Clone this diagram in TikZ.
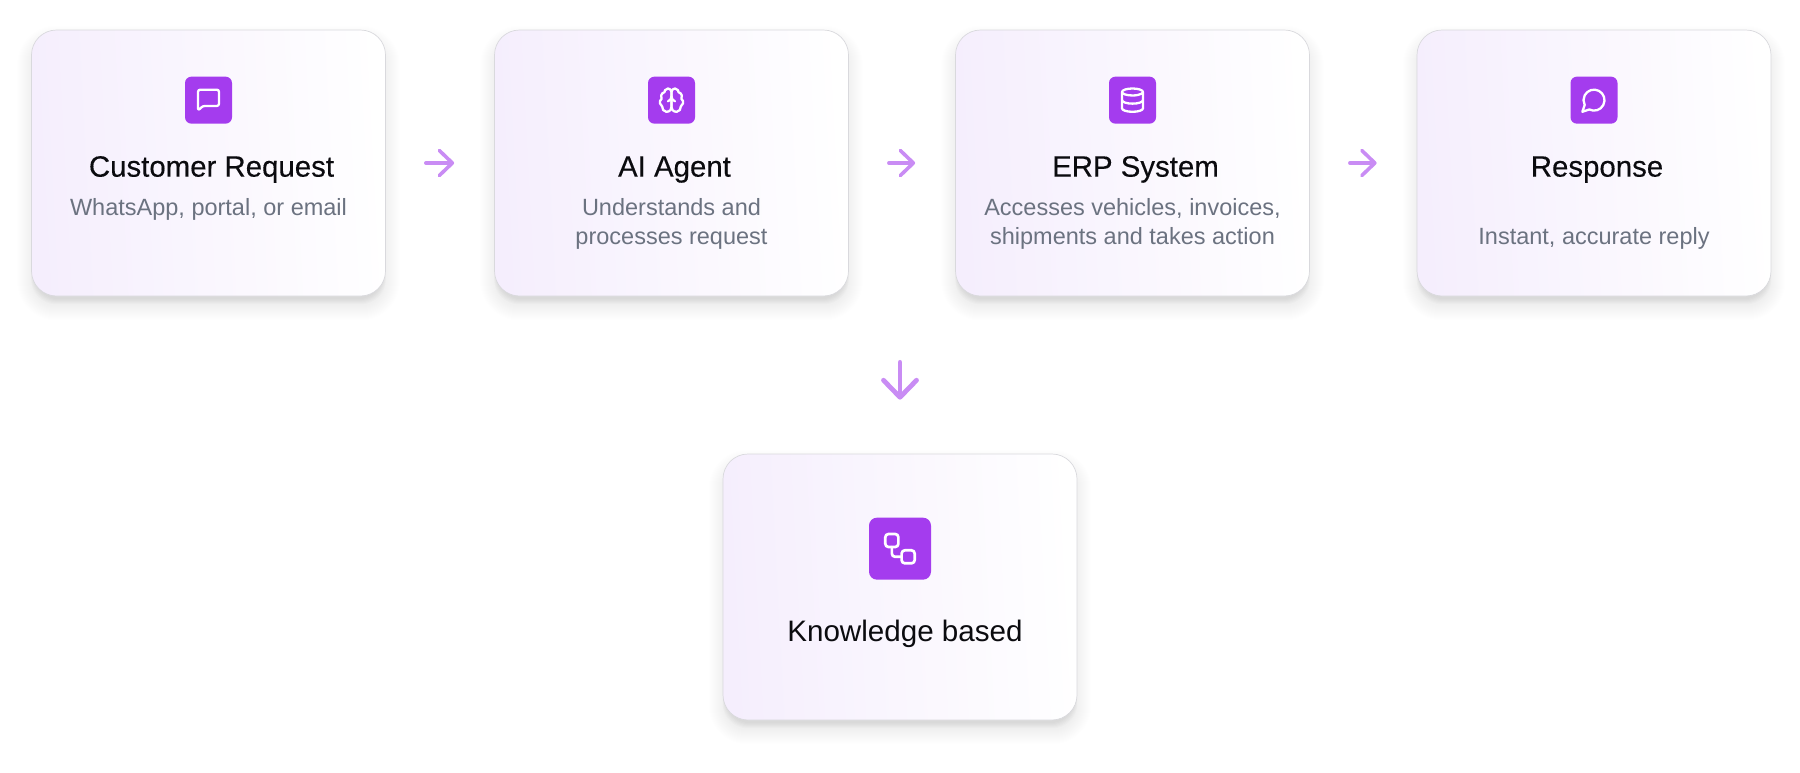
\documentclass[tikz,border=0pt]{standalone}
\usepackage{fontspec}
\setmainfont{Liberation Sans}
\newfontfamily\titlefont[FakeBold=0.25]{Liberation Sans}
\usetikzlibrary{positioning}
\usetikzlibrary{arrows.meta}
\usetikzlibrary{backgrounds}
\usetikzlibrary{svg.path}
\definecolor{cardleft}{HTML}{F5EEFD}
\definecolor{cardmid}{HTML}{FAF6FE}
\definecolor{cardedge}{HTML}{D9D9DD}
\definecolor{iconfill}{HTML}{A43CEE}
\definecolor{flowline}{HTML}{C98CF4}
\definecolor{subtext}{HTML}{6B7280}
\definecolor{titletext}{HTML}{0B0B0F}
\tikzset{x=.5pt,y=-.5pt,
    card/.style={
        draw=cardedge,
        line width=.35pt,
        rounded corners=12.5pt,
        minimum width=177pt,
        minimum height=133pt,
        inner sep=0pt,
        left color=cardleft,
        middle color=cardmid,
        right color=white,
        shading angle=93},
    iconbox/.style={
        fill=iconfill,
        rounded corners=3.2pt,
        minimum size=23.5pt,
        inner sep=0pt},
    bigiconbox/.style={
        iconbox,
        rounded corners=4pt,
        minimum size=31pt},
    iconline/.style={
        draw=white,
        line width=1.15pt,
        line cap=round,
        line join=round},
    cardtitle/.style={
        anchor=base,
        inner sep=0pt,
        text=titletext,
        font=\titlefont\fontsize{14.7}{18}\selectfont},
    cardsub/.style={
        anchor=base,
        inner sep=0pt,
        align=center,
        text=subtext,
        font=\fontsize{11.75}{14.4}\selectfont},
    flow/.style={
        draw=flowline,
        line width=1.8pt,
        line cap=round,
        -{Straight Barb[length=6.5pt,width=12.5pt,round]}},
    bigflow/.style={
        draw=flowline,
        line width=2.4pt,
        line cap=round,
        -{Straight Barb[length=8.5pt,width=16.5pt,round]}},
    iconpath/.style={
        shift={(-7pt,7pt)},
        xscale=.583,
        yscale=-.583}}

\begin{document}
\begin{tikzpicture}
    \useasboundingbox (0,0) rectangle (1800,772);

    \node[card] (custreq) at (208.5,163) {};
    \node[card] (aiagent) at (671.5,163) {};
    \node[card] (erp) at (1132.5,163) {};
    \node[card] (resp) at (1594,163) {};
    \node[card] (know) at (900,587) {};

    % shadows under the cards
    \begin{scope}[on background layer]
        \foreach \n in {custreq,aiagent,erp,resp,know} {
            \foreach \s in {0,...,14}
                \fill[black,opacity=.004,rounded corners=12.5pt+\s*.5pt]
                    ([xshift=-\s*.5pt,yshift=-5pt-\s*.5pt]\n.south west) rectangle ([xshift=\s*.5pt,yshift=-5pt+\s*.5pt]\n.north east);
            \foreach \s in {0,...,5}
                \fill[black,opacity=.017,rounded corners=12.5pt]
                    ([xshift=1.5pt-\s*.3pt,yshift=-1.5pt-\s*.5pt]\n.south west) rectangle ([xshift=-1.5pt+\s*.3pt,yshift=-1.5pt]\n.north east);
        }
    \end{scope}

    \node[iconbox] (custreq-icon) at ([yshift=-35.25pt]custreq.north) {};
    \node[iconbox] (aiagent-icon) at ([yshift=-35.25pt]aiagent.north) {};
    \node[iconbox] (erp-icon) at ([yshift=-35.25pt]erp.north) {};
    \node[iconbox] (resp-icon) at ([yshift=-35.25pt]resp.north) {};
    \node[bigiconbox] (know-icon) at ([yshift=-47.5pt]know.north) {};

    \node[cardtitle] (custreq-title) at ([xshift=1.5pt,yshift=-73.5pt]custreq.north) {Customer Request};
    \node[cardtitle] (aiagent-title) at ([xshift=1.5pt,yshift=-73.5pt]aiagent.north) {AI Agent};
    \node[cardtitle] (erp-title) at ([xshift=1.5pt,yshift=-73.5pt]erp.north) {ERP System};
    \node[cardtitle] (resp-title) at ([xshift=1.5pt,yshift=-73.5pt]resp.north) {Response};
    \node[cardtitle,font=\fontsize{14.8}{18}\selectfont] (know-title) at ([xshift=2.5pt,yshift=-94pt]know.north) {Knowledge based};

    \node[cardsub] (custreq-sub) at ([yshift=-93pt]custreq.north) {WhatsApp, portal, or email};
    \node[cardsub] (aiagent-sub) at ([yshift=-107.5pt]aiagent.north) {Understands and\\processes request};
    \node[cardsub] (erp-sub) at ([yshift=-107.5pt]erp.north) {Accesses vehicles, invoices,\\shipments and takes action};
    \node[cardsub] (resp-sub) at ([yshift=-107.5pt]resp.north) {Instant, accurate reply};

    % icons
    \begin{scope}[shift={(custreq-icon.center)},x=.583pt,y=-.583pt]
        \draw[iconline,rounded corners=1.1pt] (-9,9) -- (-9,-9) -- (9,-9) -- (9,5) -- (-5,5) -- cycle;
    \end{scope}
    \begin{scope}[shift={(aiagent-icon.center)}]
        \draw[iconline,iconpath] svg "M12 5a3 3 0 1 0-5.997.125 4 4 0 0 0-2.526 5.77 4 4 0 0 0 .556 6.588A4 4 0 1 0 12 18Z";
        \draw[iconline,iconpath] svg "M12 5a3 3 0 1 1 5.997.125 4 4 0 0 1 2.526 5.77 4 4 0 0 1-.556 6.588A4 4 0 1 1 12 18Z";
        \draw[iconline,iconpath] svg "M15 13a4.5 4.5 0 0 1-3-4 4.5 4.5 0 0 1-3 4";
    \end{scope}
    \begin{scope}[shift={(erp-icon.center)}]
        \draw[iconline,iconpath] svg "M3 5a9 3 0 1 0 18 0a9 3 0 1 0-18 0";
        \draw[iconline,iconpath] svg "M3 5V19A9 3 0 0 0 21 19V5";
        \draw[iconline,iconpath] svg "M3 12A9 3 0 0 0 21 12";
    \end{scope}
    \begin{scope}[shift={(resp-icon.center)}]
        \draw[iconline,iconpath] svg "M7.9 20A9 9 0 1 0 4 16.1L2 22Z";
    \end{scope}
    \begin{scope}[shift={(know-icon.center)},x=.815pt,y=-.815pt]
        \draw[iconline,line width=1.35pt,rounded corners=1.6pt] (-9,-9) rectangle (-1,-1);
        \draw[iconline,line width=1.35pt,rounded corners=1.6pt] (1,1) rectangle (9,9);
        \draw[iconline,line width=1.35pt,rounded corners=1.6pt] (-5,-1) -- (-5,5) -- (1,5);
    \end{scope}

    \coordinate (know-in) at (know.north |- erp.south);

    \draw[flow,shorten <=20pt,shorten >=20pt] (custreq) -- (aiagent);
    \draw[flow,shorten <=20pt,shorten >=20pt] (aiagent) -- (erp);
    \draw[flow,shorten <=20pt,shorten >=20pt] (erp) -- (resp);
    \draw[bigflow,shorten <=33pt,shorten >=27pt] (know-in) -- (know);
\end{tikzpicture}
\end{document}
